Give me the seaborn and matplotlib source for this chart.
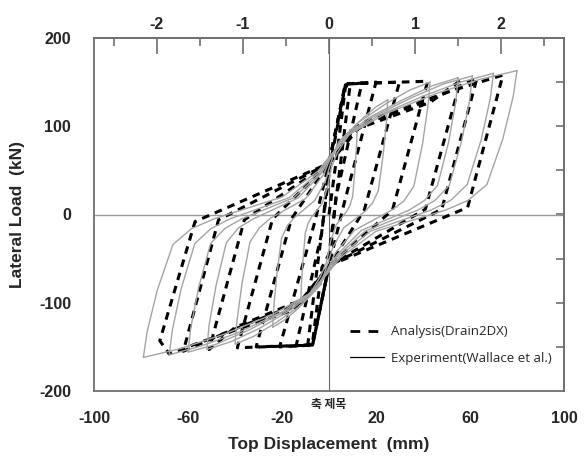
import matplotlib
matplotlib.use("Agg")
import matplotlib.pyplot as plt
from matplotlib.lines import Line2D
import pandas as pd
import seaborn as sns

# Analysis (Drain2DX) loops, displacement in mm / load in kN
ana_disp = [
    [0, 3, 7, 9, 5, 0, -3, -7, -9, -5, 0],
    [0, 7, 14, 3, 0, -7, -14, -3, 0],
    [0, 7, 20, 6, 0, -7, -21, -6, 0],
    [0, 7, 30, 15, 0, -7, -31, -16, 0],
    [0, 7, 42, 27, 0, -7, -39, -24, 0],
    [0, 12, 43, 56, 41, 0, -10, -40, -51, -36, 0],
    [0, 12, 45, 63, 48, 0, -12, -45, -62, -47, 0],
    [0, 15, 52, 74, 59, 0, -15, -55, -68, -72, -57, 0],
]
ana_load = [
    [0, 60, 145, 147, 60, -45, -60, -145, -147, -60, 45],
    [50, 147, 149, 20, -58, -147, -149, -20, 58],
    [58, 148, 150, 8, -58, -148, -150, -8, 58],
    [58, 148, 150, 5, -58, -148, -150, -5, 58],
    [58, 148, 151, 5, -58, -148, -151, -5, 58],
    [58, 97, 127, 152, 6, -58, -95, -128, -153, -6, 58],
    [58, 100, 132, 155, 6, -58, -100, -135, -155, -6, 58],
    [58, 105, 140, 158, 8, -58, -108, -145, -158, -143, -8, 58],
]

# Experiment (Wallace et al.) loops
exp_disp = [
    [12, 11.8, 11.1, 10.1, 8.9, 7.4, 3.0, 0.7, 0, -1.2, -3.6, -6.8, -9.6, -12,
     -11.8, -11.1, -10.1, -8.9, -7.4, -3.0, -0.7, 0, 1.2, 3.6, 6.8, 9.6, 12],
    [25, 24.5, 23.1, 21.0, 18.5, 15.5, 6.3, 1.5, 0, -2.4, -7.2, -13.7, -19.2, -24,
     -23.5, -22.2, -20.2, -17.8, -14.9, -6.0, -1.4, 0, 2.5, 7.5, 14.3, 20, 25],
    [43, 42.1, 39.8, 36.1, 31.8, 26.7, 10.8, 2.6, 0, -4, -12, -22.8, -32, -40,
     -39.2, -37, -33.6, -29.6, -24.8, -10, -2.4, 0, 4.3, 12.9, 24.5, 34.4, 43],
    [55, 53.9, 50.9, 46.2, 40.7, 34.1, 13.8, 3.3, 0, -5.2, -15.6, -29.6, -41.6, -52,
     -51, -48.1, -43.7, -38.5, -32.2, -13, -3.1, 0, 5.5, 16.5, 31.4, 44, 55],
    [61, 59.8, 56.4, 51.2, 45.1, 37.8, 15.3, 3.7, 0, -6, -18, -34.2, -48, -60,
     -58.8, -55.5, -50.4, -44.4, -37.2, -15, -3.6, 0, 6.1, 18.3, 34.8, 48.8, 61],
    [70, 68.6, 64.8, 58.8, 51.8, 43.4, 17.5, 4.2, 0, -6.8, -20.4, -38.8, -54.4, -68,
     -66.6, -62.9, -57.1, -50.3, -42.2, -17, -4.1, 0, 7, 21, 39.9, 56, 70],
    [80, 78.4, 74, 67.2, 59.2, 49.6, 20, 4.8, 0, -7.9, -23.7, -45, -63.2, -79,
     -77.4, -73.1, -66.4, -58.5, -49, -19.8, -4.7, 0, 8, 24, 45.6, 64, 80],
]
exp_load = [
    [100, 82, 53, 21, 10, 3, -12, -30, -40, -55, -70, -84, -94, -100,
     -82, -53, -21, -10, -3, 12, 30, 40, 55, 70, 84, 94, 100],
    [130, 107, 69, 27, 13, 4, -15, -38, -51, -70, -90, -108, -120, -128,
     -105, -68, -27, -13, -4, 16, 39, 52, 72, 91, 109, 122, 130],
    [150, 123, 80, 32, 15, 5, -18, -44, -59, -81, -103, -123, -138, -147,
     -121, -78, -31, -15, -4, 18, 45, 60, 83, 105, 126, 141, 150],
    [155, 127, 82, 33, 16, 5, -18, -46, -61, -84, -107, -129, -144, -153,
     -125, -81, -32, -15, -5, 19, 47, 62, 85, 109, 130, 146, 155],
    [157, 129, 83, 33, 16, 5, -19, -47, -62, -86, -109, -131, -147, -156,
     -128, -83, -33, -16, -5, 19, 47, 63, 86, 110, 132, 148, 157],
    [160, 131, 85, 34, 16, 5, -19, -48, -64, -87, -111, -134, -149, -159,
     -130, -84, -33, -16, -5, 19, 48, 64, 88, 112, 134, 150, 160],
    [163, 134, 86, 34, 16, 5, -19, -49, -65, -89, -113, -136, -152, -162,
     -133, -86, -34, -16, -5, 20, 49, 65, 90, 114, 137, 153, 163],
]

x_ticks = [-100, -60, -20, 20, 60, 100]
x_minor = [-80, -40, 0, 40, 80]
y_ticks = [-200, -100, 0, 100, 200]
y_minor = [-150, -50, 50, 150]
drift_ticks = [-2, -1, 0, 1, 2]
drift_minor = [-2.5, -1.5, -0.5, 0.5, 1.5, 2.5]
wall_height_mm = 36.6  # mm per 1 % drift


def to_frame(disp, load):
    rows = []
    for i, (xs, ys) in enumerate(zip(disp, load)):
        for x, y in zip(xs, ys):
            rows.append({"loop": i, "disp": x, "load": y})
    return pd.DataFrame(rows)


ana_df = to_frame(ana_disp, ana_load)
exp_df = to_frame(exp_disp, exp_load)

sns.set_theme(style="white")
plt.rcParams["font.family"] = ["Liberation Sans Narrow", "Liberation Sans", "DejaVu Sans"]

fig = plt.figure(figsize=(5.88, 4.68), dpi=100)
ax = fig.add_axes([94 / 588, 77 / 468, 470 / 588, 353 / 468])

ax.axhline(0, color="#9a9a9a", lw=1.0, zorder=1)
ax.axvline(0, color="#6a6a6a", lw=0.8, zorder=1)

sns.lineplot(data=ana_df, x="disp", y="load", units="loop", estimator=None,
             sort=False, color="black", lw=2.2, linestyle=(0, (2.5, 2)),
             ax=ax, legend=False, zorder=2)
sns.lineplot(data=exp_df, x="disp", y="load", units="loop", estimator=None,
             sort=False, color="#a4a4a4", lw=1.0, ax=ax, legend=False, zorder=3)

ax.set_xlim(-100, 100)
ax.set_ylim(-200, 200)
ax.set_xticks(x_ticks)
ax.set_xticks(x_minor, minor=True)
ax.set_yticks(y_ticks)
ax.set_yticks(y_minor, minor=True)
ax.tick_params(axis="both", which="major", direction="out", length=11.5,
               width=1.2, color="#707070", labelsize=11.5, pad=3)
ax.tick_params(axis="both", which="minor", direction="out", length=5.8,
               width=1.2, color="#707070")
ax.tick_params(axis="y", pad=5)
ax.set_xticklabels([str(t) for t in x_ticks], fontweight="bold")
ax.set_yticklabels([str(t) for t in y_ticks], fontweight="bold")

for side in ["left", "right", "top", "bottom"]:
    ax.spines[side].set_color("#707070")
    ax.spines[side].set_linewidth(1.3)

top = ax.secondary_xaxis("top", functions=(lambda m: m / wall_height_mm,
                                           lambda p: p * wall_height_mm))
top.set_xticks(drift_ticks)
top.set_xticks(drift_minor, minor=True)
top.set_xticklabels([str(t) for t in drift_ticks], fontweight="bold")
top.tick_params(which="major", direction="in", length=11.5, width=1.2,
                color="#707070", labelsize=11.5, pad=4)
top.tick_params(which="minor", direction="in", length=5.8, width=1.2,
                color="#707070")
top.spines["top"].set_color("#707070")
top.spines["top"].set_linewidth(1.3)

right = ax.secondary_yaxis("right")
right.set_yticks(y_minor + [-100, 0, 100])
right.set_yticklabels([])
right.tick_params(direction="in", length=5.5, width=1.2, color="#707070")
right.spines["right"].set_color("#707070")
right.spines["right"].set_linewidth(1.3)

ax.set_xlabel("Top Displacement  (mm)", fontsize=12.5, fontweight="bold",
              labelpad=8)
ax.set_ylabel("Lateral Load  (kN)", fontsize=12.5, fontweight="bold",
              labelpad=10)

ax.annotate("축 제목", xy=(0, 0), xycoords=("data", "axes fraction"),
            xytext=(0, -5), textcoords="offset points", ha="center", va="top",
            fontsize=8.5, fontweight="bold",
            family=["Noto Sans CJK KR", "DejaVu Sans"])

handles = [
    Line2D([], [], color="black", lw=2, linestyle=(0, (3.5, 3))),
    Line2D([], [], color="black", lw=0.9),
]
ax.legend(handles, ["Analysis(Drain2DX)", "Experiment(Wallace et al.)"],
          loc="lower right", bbox_to_anchor=(1.0, 0.04), frameon=False,
          handlelength=2.6, labelspacing=1.05, handletextpad=0.55,
          prop={"family": "Open Sans", "size": 9.5})

fig.savefig("out.png", dpi=100)
